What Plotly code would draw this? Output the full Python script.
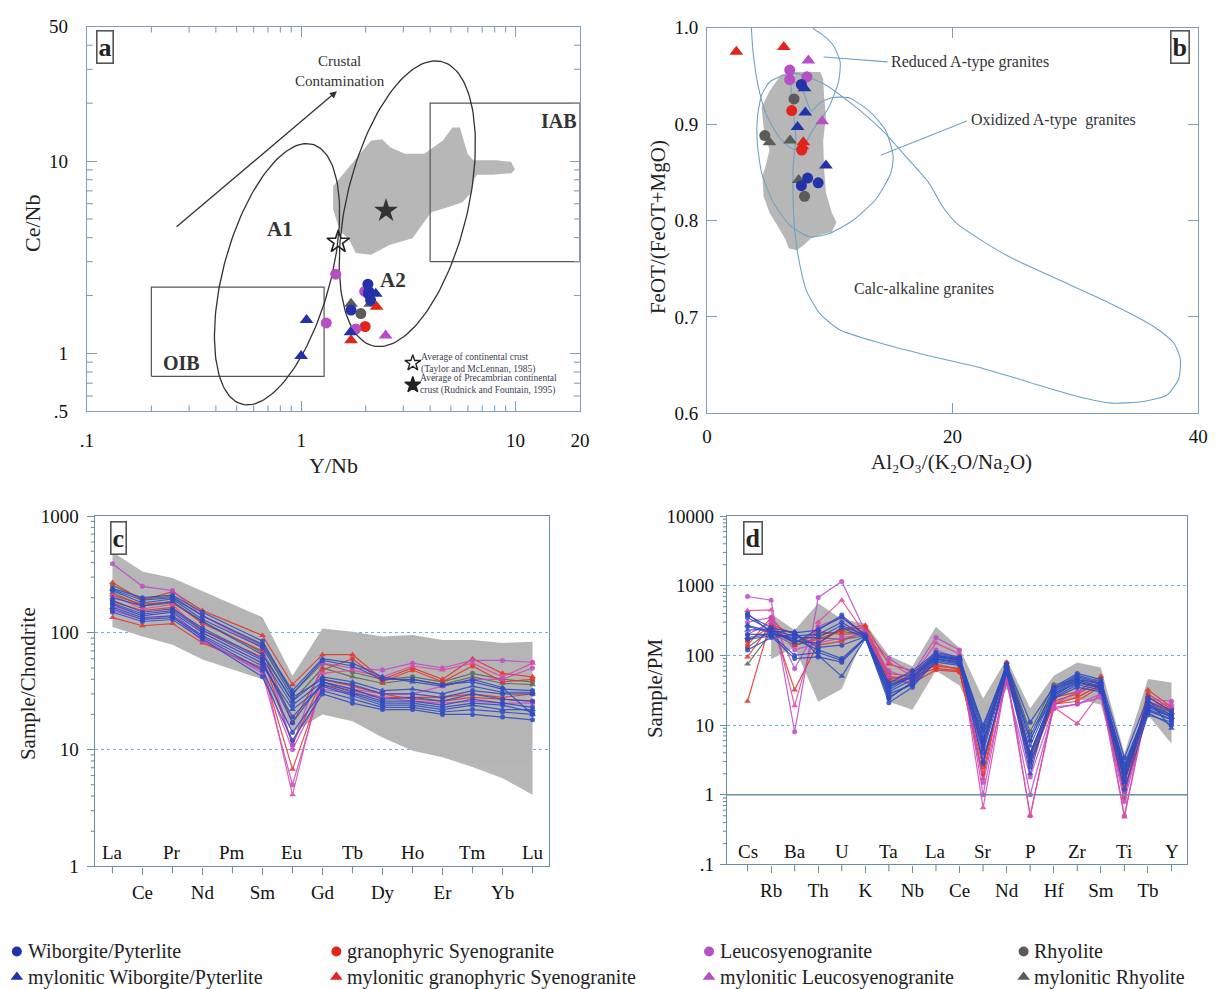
import math
import plotly.graph_objects as go

W, H = 1218, 989
SERIF = "Liberation Serif"

BLUE = "#2233aa"
RED = "#e3241b"
MAG = "#b64fc3"
GRAY = "#5b5b5b"
FRAME_AB = "#7f9fba"
FRAME_CD = "#6a90a4"
FIELD = "#6fa3c3"
SHADE = "#b7b7b7"

# ---------------- (a) Y/Nb vs Ce/Nb ----------------
a_wib_yn = [2.05, 2.06, 1.71, 2.07, 2.11]
a_wib_cn = [2.29, 2.04, 1.68, 2.10, 1.89]
a_mwib_yn = [2.23, 1.06, 1.70, 1.00]
a_mwib_cn = [2.04, 1.49, 1.29, 0.97]
a_gra_yn = [1.99]
a_gra_cn = [1.38]
a_mgra_yn = [2.25, 1.71]
a_mgra_cn = [1.75, 1.17]
a_leu_yn = [1.45, 1.31, 1.80, 1.98]
a_leu_cn = [2.58, 1.44, 1.34, 2.10]
a_mleu_yn = [2.48]
a_mleu_cn = [1.24]
a_rhy_yn = [1.90]
a_rhy_cn = [1.61]
a_mrhy_yn = [1.71, 2.10]
a_mrhy_cn = [1.81, 1.81]

# grey field of comparison data
a_blob_yn = [1.41, 2.12, 2.39, 2.60, 3.05, 3.75, 4.59, 5.08, 5.51, 5.75, 5.98, 6.36, 8.12,
             9.55, 9.95, 9.55, 7.80, 6.62, 6.41, 6.23, 5.63, 4.79, 4.06, 3.75, 3.31, 2.60,
             2.12, 1.80, 1.66, 1.53, 1.47, 1.41]
a_blob_cn = [7.40, 12.8, 13.0, 11.8, 10.9, 10.9, 12.8, 14.96, 14.96, 12.8, 10.9, 10.1, 10.1,
             9.92, 9.01, 8.65, 8.49, 8.49, 8.01, 6.85, 6.09, 5.74, 5.42, 4.82, 3.97, 3.67,
             3.26, 3.33, 3.97, 4.28, 4.82, 5.64]

# OIB and IAB fields (Y/Nb, Ce/Nb limits)
oib_yn = [0.2, 1.28]
oib_cn = [0.76, 2.21]
iab_yn = [4.0, 20.0]
iab_cn = [3.0, 20.0]

# crustal averages
crust_tm = (1.49, 3.8)
crust_rf = (2.49, 5.52)

# ---------------- (b) FeOT/(FeOT+MgO) vs Al2O3/(K2O/Na2O) ----------------
b_wib_x = [7.68, 8.19, 7.68, 9.05]
b_wib_y = [0.941, 0.844, 0.836, 0.839]
b_mwib_x = [7.94, 8.0, 7.37, 9.68]
b_mwib_y = [0.937, 0.912, 0.897, 0.857]
b_gra_x = [6.89, 7.71]
b_gra_y = [0.914, 0.873]
b_mgra_x = [2.38, 6.25, 7.84, 7.76]
b_mgra_y = [0.975, 0.980, 0.881, 0.877]
b_leu_x = [6.73, 6.73, 8.13]
b_leu_y = [0.956, 0.946, 0.949]
b_mleu_x = [8.25, 9.37]
b_mleu_y = [0.966, 0.903]
b_rhy_x = [7.08, 4.70, 7.94]
b_rhy_y = [0.926, 0.888, 0.825]
b_mrhy_x = [5.08, 6.76, 7.46]
b_mrhy_y = [0.881, 0.883, 0.842]

b_blob_x = [6.03, 6.98, 9.21, 9.46, 9.52, 9.68, 9.46, 9.52, 9.68, 10.16, 10.54, 10.16, 9.21,
            8.41, 7.94, 7.30, 6.67, 6.35, 5.71, 5.08, 4.60, 4.51, 4.76, 5.08, 4.60, 4.44,
            5.08, 5.71, 6.03]
b_blob_y = [0.951, 0.954, 0.954, 0.947, 0.931, 0.907, 0.883, 0.856, 0.829, 0.808, 0.798,
            0.788, 0.785, 0.781, 0.775, 0.769, 0.771, 0.781, 0.795, 0.808, 0.825, 0.846,
            0.856, 0.873, 0.897, 0.917, 0.934, 0.946, 0.951]

reduced_x = [3.55, 3.61, 3.75, 4.15, 4.82, 5.89, 6.96, 7.71, 8.57, 9.90, 10.71, 10.84, 10.31,
             9.37, 8.70, 8.40]
reduced_y = [1.01, 0.9987, 0.974, 0.940, 0.910, 0.886, 0.874, 0.874, 0.893, 0.917, 0.944,
             0.964, 0.981, 0.993, 0.9987, 1.01]
oxidized_x = [6.34, 5.12, 4.45, 4.10, 4.10, 4.45, 5.40, 6.75, 8.36, 9.98, 11.86, 13.75, 14.96,
              15.16, 14.56, 13.21, 11.60, 10.25, 9.17, 8.50, 7.82, 7.01, 6.34]
oxidized_y = [0.9506, 0.9439, 0.9303, 0.9066, 0.8795, 0.8490, 0.8186, 0.7949, 0.7830, 0.7865,
              0.8000, 0.8220, 0.8490, 0.8660, 0.8931, 0.9134, 0.9269, 0.9276, 0.9218, 0.9134,
              0.9337, 0.9455, 0.9506]
calc_x = [7.01, 9.44, 11.86, 14.29, 16.45, 18.06, 19.14, 20.22, 22.10, 24.80, 28.84, 32.89,
          36.39, 38.01, 38.55, 38.42, 37.47, 35.58, 32.89, 30.19, 26.15, 22.10, 18.06, 14.02,
          10.79, 9.17, 8.09, 7.55, 7.15, 7.01, 7.01, 7.23, 6.99, 6.83, 7.01]
calc_y = [0.9523, 0.9421, 0.9201, 0.8931, 0.8626, 0.8389, 0.8152, 0.7983, 0.7814, 0.7611,
          0.7374, 0.7137, 0.6900, 0.6731, 0.6561, 0.6358, 0.6190, 0.6122, 0.6105, 0.6173,
          0.6325, 0.6477, 0.6596, 0.6731, 0.6866, 0.7036, 0.7272, 0.7543, 0.7881, 0.8220,
          0.8558, 0.8863, 0.9168, 0.9371, 0.9523]

# ---------------- (c) chondrite-normalised REE ----------------
ree = ["La", "Ce", "Pr", "Nd", "Pm", "Sm", "Eu", "Gd", "Tb", "Dy", "Ho", "Er", "Tm", "Yb", "Lu"]
c_env_hi = [493, 335, 295, 228, None, 136, 43, 109, 102, 93, 96, 87, 87, 82, 84]
c_env_lo = [112, 93, 79, 59, None, 40, 14, 20, 17.5, 12.7, 9.8, 8.6, 7.1, 5.7, 4.1]

c_wib = [
    [240, 200, 210, 150, None, 85, 30, 58, 52, 40, 40, 36, 38, 33, 32],
    [230, 180, 195, 130, None, 75, 28, 40, 36, 30, 30, 28, 32, 30, 30],
    [190, 150, 160, 110, None, 60, 24, 38, 33, 27, 28, 26, 30, 27, 26],
    [175, 140, 150, 100, None, 55, 19, 36, 30, 25, 25, 23, 25, 24, 21],
    [160, 130, 135, 92, None, 48, 14, 32, 27, 23, 23, 21, 22, 21, 20],
    [150, 125, 130, 88, None, 42, 12, 30, 25, 22, 22, 20, 20, 19, 18],
    [180, 145, 155, 105, None, 58, 17, 38, 31, 26, 26, 24, 27, 25, 23],
]
c_mwib = [
    [200, 170, 185, 125, None, 65, 26, 42, 38, 32, 33, 30, 35, 31, 31],
    [165, 135, 140, 95, None, 52, 22, 35, 29, 24, 24, 22, 24, 22, 22],
    [235, 190, 200, 140, None, 80, 32, 60, 55, 42, 38, 35, 40, 34, 20],
]
c_gra = [
    [210, 175, 185, 120, None, 70, 17, 48, 60, 38, 48, 38, 52, 38, 40],
    [185, 155, 165, 105, None, 62, 11, 40, 35, 30, 27, 26, 28, 27, 26],
]
c_mgra = [
    [270, 190, 225, 155, None, 95, 36, 65, 65, 40, 50, 40, 60, 45, 42],
    [135, 115, 120, 82, None, 50, 6.8, 36, 32, 28, 28, 28, 30, 28, 30],
]
c_leu = [
    [390, 250, 230, 140, None, 75, 11, 55, 50, 48, 55, 50, 58, 58, 56],
    [170, 140, 150, 90, None, 45, 5.0, 38, 33, 30, 30, 35, 40, 40, 50],
    [155, 130, 140, 85, None, 47, 10, 33, 30, 28, 26, 25, 26, 25, 25],
]
c_mleu = [
    [210, 160, 175, 100, None, 55, 4.1, 45, 48, 42, 52, 48, 55, 42, 55],
]
c_rhy = [
    [255, 195, 205, 140, None, 78, 30, 55, 46, 40, 42, 38, 45, 40, 38],
]
c_mrhy = [
    [220, 170, 180, 125, None, 68, 26, 50, 42, 37, 40, 36, 42, 37, 36],
]

# ---------------- (d) primitive-mantle-normalised trace elements ----------------
trace = ["Cs", "Rb", "Ba", "Th", "U", "K", "Ta", "Nb", "La", "Ce", "Sr", "Nd", "P", "Hf",
         "Zr", "Sm", "Ti", "Tb", "Y"]
d_env_hi = [None, 396, 230, 560, 330, 287, 100, 70, 258, 128, 24, 88, 17.5, 51, 79, 67, 3.9, 46, 41]
d_env_lo = [None, 88, 130, 21.7, 33, 208, 21.7, 16.6, 60, 37, 7.4, 33, 8.2, 19.5, 24, 19.5, 1.17, 14, 5.4]

d_wib = [
    [380, 250, 210, 230, 380, 190, 40, 60, 110, 95, 9, 75, 11, 35, 55, 45, 3.4, 25, 16],
    [350, 230, 190, 200, 300, 185, 35, 50, 100, 90, 7, 70, 6, 30, 45, 40, 2.5, 20, 14],
    [260, 210, 160, 150, 250, 180, 30, 45, 95, 85, 5.5, 65, 4, 28, 40, 35, 2.0, 18, 13],
    [200, 200, 100, 110, 85, 175, 25, 40, 90, 80, 4, 60, 3, 25, 38, 32, 1.6, 16, 12],
    [170, 190, 90, 95, 80, 180, 21, 35, 85, 75, 3, 55, 2.5, 24, 35, 30, 1.2, 14, 11],
    [120, 180, 200, 130, 140, 185, 28, 38, 80, 72, 6, 62, 3.5, 26, 42, 34, 1.8, 15, 10],
    [400, 210, 170, 120, 90, 180, 24, 42, 88, 78, 2.8, 58, 3.8, 28, 44, 36, 2.4, 17, 12],
]
d_mwib = [
    [270, 220, 220, 100, 50, 175, 35, 55, 105, 92, 8, 70, 2, 32, 50, 40, 2.2, 22, 15],
    [180, 200, 180, 180, 270, 190, 32, 50, 100, 88, 10, 68, 5, 30, 48, 38, 2.8, 19, 13],
    [230, 240, 150, 240, 350, 200, 38, 48, 95, 85, 4.5, 72, 7, 33, 52, 42, 1.5, 24, 9],
]
d_gra = [
    [140, 350, 140, 170, 230, 250, 55, 50, 65, 60, 2.0, 70, 3.5, 22, 28, 42, 0.9, 28, 17],
    [160, 260, 150, 220, 200, 210, 45, 40, 62, 58, 2.5, 60, 3, 20, 22, 36, 1.1, 22, 16],
]
d_mgra = [
    [22, 320, 32, 150, 240, 270, 75, 60, 70, 65, 4.5, 80, 4, 25, 30, 50, 1.0, 32, 18],
    [95, 280, 200, 140, 160, 230, 50, 45, 75, 62, 1.7, 65, 2.8, 20, 25, 38, 1.4, 26, 15],
]
d_leu = [
    [700, 620, 8, 680, 1150, 220, 90, 55, 180, 120, 1.0, 55, 0.5, 20, 30, 40, 0.5, 24, 22],
    [300, 350, 65, 260, 350, 190, 60, 45, 120, 90, 1.5, 45, 1.0, 17, 20, 28, 0.8, 18, 18],
    [200, 300, 120, 150, 180, 200, 50, 38, 100, 80, 3.5, 40, 1.8, 18, 20, 25, 1.0, 16, 14],
]
d_mleu = [
    [440, 450, 19, 300, 620, 200, 80, 50, 150, 105, 0.65, 50, 0.5, 18, 10.5, 30, 0.48, 20, 20],
]
d_rhy = [
    [130, 230, 150, 200, 220, 200, 45, 55, 100, 85, 6, 78, 8, 38, 45, 35, 2.0, 22, 14],
]
d_mrhy = [
    [75, 210, 140, 180, 170, 190, 40, 50, 90, 80, 5, 72, 6, 35, 42, 33, 1.8, 20, 13],
]

# ---------------- layout geometry (pixels) ----------------
def px_dom_x(x0, x1):
    return [x0 / W, x1 / W]


def px_dom_y(top, bottom):
    return [1 - bottom / H, 1 - top / H]


A_X, A_Y = (81, 581), (17, 410)
B_X, B_Y = (710, 1208), (18, 412)
C_X, C_Y = (89, 550), (517, 875)
D_X, D_Y = (730, 1197), (517, 873)

A_XR = [math.log10(0.1), math.log10(20)]
A_YR = [math.log10(0.5), math.log10(50)]
KX = (A_X[1] - A_X[0]) / (A_XR[1] - A_XR[0])   # px per decade
KY = (A_Y[1] - A_Y[0]) / (A_YR[1] - A_YR[0])


def ellipse(cx, cy, a_px, b_px, phi_deg, n=160):
    phi = math.radians(phi_deg)
    xs, ys = [], []
    for i in range(n + 1):
        t = 2 * math.pi * i / n
        du = a_px * math.cos(t) * math.cos(phi) - b_px * math.sin(t) * math.sin(phi)
        dv = a_px * math.cos(t) * math.sin(phi) + b_px * math.sin(t) * math.cos(phi)
        xs.append(cx * 10 ** (du / KX))
        ys.append(cy * 10 ** (dv / KY))
    return xs, ys


fig = go.Figure()

# ---------- panel a ----------
fig.add_trace(go.Scatter(x=a_blob_yn, y=a_blob_cn, fill="toself", fillcolor=SHADE,
                         mode="lines", line=dict(width=0), xaxis="x", yaxis="y",
                         hoverinfo="skip", showlegend=False))
for (x0, x1), (y0, y1) in [(oib_yn, oib_cn), (iab_yn, iab_cn)]:
    fig.add_trace(go.Scatter(x=[x0, x1, x1, x0, x0], y=[y0, y0, y1, y1, y0], mode="lines",
                             line=dict(color="#555", width=1.2), xaxis="x", yaxis="y",
                             showlegend=False, hoverinfo="skip"))
ex, ey = ellipse(0.772, 2.58, 137.5, 54.3, 74.9)
fig.add_trace(go.Scatter(x=ex, y=ey, mode="lines", line=dict(color="#333", width=1.3),
                         xaxis="x", yaxis="y", showlegend=False, hoverinfo="skip"))
ex, ey = ellipse(3.13, 6.0, 149.4, 61.4, 76.6)
fig.add_trace(go.Scatter(x=ex, y=ey, mode="lines", line=dict(color="#333", width=1.3),
                         xaxis="x", yaxis="y", showlegend=False, hoverinfo="skip"))

groups_a = [
    (a_rhy_yn, a_rhy_cn, GRAY, "circle"), (a_mrhy_yn, a_mrhy_cn, GRAY, "triangle-up"),
    (a_gra_yn, a_gra_cn, RED, "circle"), (a_mgra_yn, a_mgra_cn, RED, "triangle-up"),
    (a_leu_yn, a_leu_cn, MAG, "circle"), (a_mleu_yn, a_mleu_cn, MAG, "triangle-up"),
    (a_wib_yn, a_wib_cn, BLUE, "circle"), (a_mwib_yn, a_mwib_cn, BLUE, "triangle-up"),
]
for xs, ys, col, sym in groups_a:
    fig.add_trace(go.Scatter(x=xs, y=ys, mode="markers", xaxis="x", yaxis="y",
                             marker=dict(color=col, symbol=sym, size=11 if sym == "circle" else 12,
                                         line=dict(width=0)), showlegend=False))

fig.add_trace(go.Scatter(x=[crust_tm[0]], y=[crust_tm[1]], mode="markers", xaxis="x", yaxis="y",
                         marker=dict(symbol="star-open", size=17, color="#222",
                                     line=dict(width=1.6, color="#222")), showlegend=False))
fig.add_trace(go.Scatter(x=[crust_rf[0]], y=[crust_rf[1]], mode="markers", xaxis="x", yaxis="y",
                         marker=dict(symbol="star", size=18, color="#333"), showlegend=False))
# key for the two crustal averages
fig.add_trace(go.Scatter(x=[3.32, 3.32], y=[0.891, 0.686], mode="markers", xaxis="x", yaxis="y",
                         marker=dict(symbol=["star-open", "star"], size=12, color="#222",
                                     line=dict(width=1.4, color="#222")), showlegend=False))

# ---------- panel b ----------
fig.add_trace(go.Scatter(x=b_blob_x, y=b_blob_y, fill="toself", fillcolor=SHADE, mode="lines",
                         line=dict(width=0), xaxis="x2", yaxis="y2", hoverinfo="skip",
                         showlegend=False))
for xs, ys in [(reduced_x, reduced_y), (oxidized_x, oxidized_y), (calc_x, calc_y),
               ([9.50, 14.7], [0.9695, 0.9645]), ([14.15, 21.16], [0.8677, 0.9032])]:
    fig.add_trace(go.Scatter(x=xs, y=ys, mode="lines", line=dict(color=FIELD, width=1.1,
                                                                  shape="spline", smoothing=0.6),
                             xaxis="x2", yaxis="y2", hoverinfo="skip", showlegend=False))
groups_b = [
    (b_rhy_x, b_rhy_y, GRAY, "circle"), (b_mrhy_x, b_mrhy_y, GRAY, "triangle-up"),
    (b_leu_x, b_leu_y, MAG, "circle"), (b_mleu_x, b_mleu_y, MAG, "triangle-up"),
    (b_wib_x, b_wib_y, BLUE, "circle"), (b_mwib_x, b_mwib_y, BLUE, "triangle-up"),
    (b_gra_x, b_gra_y, RED, "circle"), (b_mgra_x, b_mgra_y, RED, "triangle-up"),
]
for xs, ys, col, sym in groups_b:
    fig.add_trace(go.Scatter(x=xs, y=ys, mode="markers", xaxis="x2", yaxis="y2",
                             marker=dict(color=col, symbol=sym, size=11 if sym == "circle" else 12,
                                         line=dict(width=0)), showlegend=False))


# ---------- panels c and d: spider diagrams ----------
def envelope(hi, lo, xa, ya):
    idx = [i for i in range(len(hi)) if hi[i] is not None]
    xs = idx + idx[::-1] + [idx[0]]
    ys = [hi[i] for i in idx] + [lo[i] for i in idx[::-1]] + [hi[idx[0]]]
    fig.add_trace(go.Scatter(x=xs, y=ys, fill="toself", fillcolor=SHADE, mode="lines",
                             line=dict(width=0), xaxis=xa, yaxis=ya, hoverinfo="skip",
                             showlegend=False))


def spider(rows, col, sym, xa, ya):
    for r in rows:
        fig.add_trace(go.Scatter(x=list(range(len(r))), y=r, mode="lines+markers",
                                 connectgaps=True, xaxis=xa, yaxis=ya, opacity=0.88,
                                 line=dict(color=col, width=1.2),
                                 marker=dict(color=col, symbol=sym, size=5 if sym == "circle" else 6),
                                 showlegend=False))


LB, LR, LM, LP, LG = "#2f4cc2", "#e2382e", "#c14ccb", "#e04a9c", "#5d6a58"
envelope(c_env_hi, c_env_lo, "x3", "y3")
envelope(d_env_hi, d_env_lo, "x4", "y4")
for xa, ya, sets in [
    ("x3", "y3", [(c_rhy, LG, "circle"), (c_mrhy, LG, "triangle-up"), (c_gra, LR, "circle"),
                  (c_mgra, LR, "triangle-up"), (c_leu, LM, "circle"), (c_mleu, LP, "triangle-up"),
                  (c_wib, LB, "circle"), (c_mwib, LB, "triangle-up")]),
    ("x4", "y4", [(d_rhy, LG, "circle"), (d_mrhy, LG, "triangle-up"), (d_gra, LR, "circle"),
                  (d_mgra, LR, "triangle-up"), (d_leu, LM, "circle"), (d_mleu, LP, "triangle-up"),
                  (d_wib, LB, "circle"), (d_mwib, LB, "triangle-up")]),
]:
    for rows, col, sym in sets:
        spider(rows, col, sym, xa, ya)

# solid reference line at 1 in panel d
fig.add_trace(go.Scatter(x=[-0.88, 18.67], y=[1, 1], mode="lines", xaxis="x4", yaxis="y4",
                         line=dict(color=FRAME_CD, width=1.3), hoverinfo="skip", showlegend=False))

# ---------- bottom key (markers) ----------
KEY_ROWS = (962, 988)
key_cols = [
    (10, [("Wiborgite/Pyterlite", BLUE), ("mylonitic Wiborgite/Pyterlite", BLUE)]),
    (334, [("granophyric Syenogranite", RED), ("mylonitic granophyric Syenogranite", RED)]),
    (712, [("Leucosyenogranite", MAG), ("mylonitic Leucosyenogranite", MAG)]),
    (1031, [("Rhyolite", GRAY), ("mylonitic Rhyolite", GRAY)]),
]
for cx, items in key_cols:
    for row, (label, col) in enumerate(items):
        fig.add_trace(go.Scatter(x=[cx], y=[KEY_ROWS[row]], mode="markers", xaxis="x5",
                                 yaxis="y5", cliponaxis=False,
                                 marker=dict(color=col, size=10 if row == 0 else 11,
                                             symbol="circle" if row == 0 else "triangle-up"),
                                 showlegend=False, hoverinfo="skip"))

# ---------- axes ----------
TICKFONT = dict(family=SERIF, size=19, color="#111")


def base(color):
    return dict(showline=True, linecolor=color, linewidth=1.2, mirror=True, showgrid=False,
                zeroline=False, tickfont=TICKFONT, tickcolor=color, tickwidth=1.2,
                fixedrange=True)


xa = base(FRAME_AB)
xa.update(type="log", domain=px_dom_x(*A_X), range=A_XR, anchor="y",
          tickvals=[0.1, 1, 10, 20], ticktext=[".1", "1", "10", "20"], ticks="inside",
          ticklen=10, mirror="allticks", ticklabelstandoff=12)
ya = base(FRAME_AB)
ya.update(type="log", domain=px_dom_y(*A_Y), range=A_YR, anchor="x",
          tickvals=[0.5, 1, 10, 50], ticktext=[".5", "1", "10", "50"], ticks="inside",
          ticklen=10, mirror="allticks", ticklabelstandoff=14)

xb = base(FRAME_AB)
xb.update(domain=px_dom_x(*B_X), range=[0, 40], anchor="y2", tickvals=[0, 20, 40],
          ticks="inside", ticklen=10, mirror="allticks", ticklabelstandoff=6)
yb = base(FRAME_AB)
yb.update(domain=px_dom_y(*B_Y), range=[0.6, 1.0], anchor="x2",
          tickvals=[0.6, 0.7, 0.8, 0.9, 1.0], ticktext=["0.6", "0.7", "0.8", "0.9", "1.0"],
          ticks="inside", ticklen=10, mirror="allticks", ticklabelstandoff=4)

ree_odd = [i for i in range(len(ree)) if i % 2 == 1]
ree_even = [i for i in range(len(ree)) if i % 2 == 0]
xc = base(FRAME_CD)
xc.update(domain=px_dom_x(*C_X), range=[-0.59, 14.56], anchor="y3",
          tickvals=ree_odd, ticktext=[ree[i] for i in ree_odd],
          ticks="outside", ticklen=7, ticklabelstandoff=2)
yc = base(FRAME_CD)
yc.update(type="log", domain=px_dom_y(*C_Y), range=[0, 3], anchor="x3",
          tickvals=[1, 10, 100, 1000], ticktext=["1", "10", "100", "1000"], ticks="outside",
          ticklen=7, showgrid=True, gridcolor="#6fb2d6", griddash="dot", gridwidth=1.2,
          ticklabelstandoff=4)

tr_odd = [i for i in range(len(trace)) if i % 2 == 1]
tr_even = [i for i in range(len(trace)) if i % 2 == 0]
xd = base(FRAME_CD)
xd.update(domain=px_dom_x(*D_X), range=[-0.88, 18.67], anchor="y4",
          tickvals=tr_odd, ticktext=[trace[i] for i in tr_odd],
          ticks="outside", ticklen=7, ticklabelstandoff=2)
yd = base(FRAME_CD)
yd.update(type="log", domain=px_dom_y(*D_Y), range=[-1, 4], anchor="x4",
          tickvals=[0.1, 1, 10, 100, 1000, 10000],
          ticktext=[".1", "1", "10", "100", "1000", "10000"], ticks="outside",
          ticklen=6, showgrid=True, gridcolor="#6fb2d6", griddash="dot", gridwidth=1.2,
          ticklabelstandoff=2)

xk = dict(domain=[0, 1], range=[0, W], visible=False, fixedrange=True, anchor="y5")
yk = dict(domain=[0, 0.1], range=[H, H - 0.1 * H], visible=False, fixedrange=True, anchor="x5")

# ---------- minor tick marks (drawn as paper-space segments) ----------
shapes = []


def frac(v, rng, log):
    p = math.log10(v) if log else v
    return (p - rng[0]) / (rng[1] - rng[0])


def seg(x0, y0, x1, y1, color):
    shapes.append(dict(type="line", xref="paper", yref="paper", x0=x0, y0=y0, x1=x1, y1=y1,
                       line=dict(color=color, width=1.1), layer="above"))


def minor_x(vals, dom_x, dom_y, rng, log, length, color, sides):
    for v in vals:
        px = dom_x[0] + frac(v, rng, log) * (dom_x[1] - dom_x[0])
        if "bottom_in" in sides:
            seg(px, dom_y[0], px, dom_y[0] + length / H, color)
        if "top_in" in sides:
            seg(px, dom_y[1], px, dom_y[1] - length / H, color)
        if "bottom_out" in sides:
            seg(px, dom_y[0], px, dom_y[0] - length / H, color)


def minor_y(vals, dom_x, dom_y, rng, log, length, color, sides):
    for v in vals:
        py = dom_y[0] + frac(v, rng, log) * (dom_y[1] - dom_y[0])
        if "left_in" in sides:
            seg(dom_x[0], py, dom_x[0] + length / W, py, color)
        if "right_in" in sides:
            seg(dom_x[1], py, dom_x[1] - length / W, py, color)
        if "left_out" in sides:
            seg(dom_x[0], py, dom_x[0] - length / W, py, color)


minor_ax = [0.2, 0.3, 0.4, 0.5, 0.6, 0.7, 0.8, 0.9, 2, 3, 4, 5, 6, 7, 8, 9]
minor_ay = [0.6, 0.7, 0.8, 0.9, 2, 3, 4, 5, 6, 7, 8, 9, 20, 30, 40]
minor_c = [k * 10 ** e for e in range(0, 3) for k in range(2, 10)]
minor_d = [k * 10 ** e for e in range(-1, 4) for k in range(2, 10)]

minor_x(minor_ax, xa["domain"], ya["domain"], A_XR, True, 6, FRAME_AB, ("bottom_in", "top_in"))
minor_y(minor_ay, xa["domain"], ya["domain"], A_YR, True, 6, FRAME_AB, ("left_in", "right_in"))
minor_y(minor_c, xc["domain"], yc["domain"], [0, 3], True, 4, FRAME_CD, ("left_out",))
minor_y(minor_d, xd["domain"], yd["domain"], [-1, 4], True, 4, FRAME_CD, ("left_out",))
minor_x(ree_even, xc["domain"], yc["domain"], xc["range"], False, 7, FRAME_CD, ("bottom_out",))
minor_x(tr_even, xd["domain"], yd["domain"], xd["range"], False, 7, FRAME_CD, ("bottom_out",))

# ---------- annotations ----------
ann = []


def text(x, y, s, size, xref="paper", yref="paper", bold=False, color="#333", angle=0,
         xanchor="center", yanchor="middle", align="center"):
    ann.append(dict(x=x, y=y, xref=xref, yref=yref, text=("<b>%s</b>" % s) if bold else s,
                    showarrow=False, textangle=angle, xanchor=xanchor, yanchor=yanchor,
                    align=align, font=dict(family=SERIF, size=size, color=color)))


def letter(px, py, s):
    ann.append(dict(x=px / W, y=1 - py / H, xref="paper", yref="paper", text="<b>%s</b>" % s,
                    showarrow=False, xanchor="center", yanchor="middle",
                    font=dict(family=SERIF, size=26, color="#222"),
                    bordercolor="#555", borderwidth=1.6, borderpad=1, bgcolor="white"))


letter(99, 38, "a")
letter(1190, 38, "b")
letter(113, 539, "c")
letter(757, 539, "d")

# axis titles
text(331 / W, 1 - 465 / H, "Y/Nb", 22, color="#222")
text(26 / W, 1 - 218 / H, "Ce/Nb", 22, angle=-90, color="#222")
text(958 / W, 1 - 462 / H, "Al\u2082O\u2083/(K\u2082O/Na\u2082O)", 21, color="#222")
text(660 / W, 1 - 222 / H, "FeOT/(FeOT+MgO)", 21, angle=-90, color="#222")
text(22 / W, 1 - 688 / H, "Sample/Chondrite", 21, angle=-90, color="#222")
text(657 / W, 1 - 693 / H, "Sample/PM", 21, angle=-90, color="#222")

# panel a labels (log axes take log10 positions)
L = math.log10
text(L(1.52), L(29.5), "Crustal<br>Contamination", 15, "x", "y")
text(L(0.797), L(4.42), "A1", 21, "x", "y", bold=True)
text(L(2.67), L(2.40), "A2", 21, "x", "y", bold=True)
text(L(15.9), L(16.2), "IAB", 20, "x", "y", bold=True)
text(L(0.276), L(0.888), "OIB", 20, "x", "y", bold=True)
text(L(3.55), L(0.891), "Average of continental crust<br>(Taylor and McLennan, 1985)", 9.5,
     "x", "y", xanchor="left", align="left", color="#3a4050")
text(L(3.50), L(0.686), "Average of Precambrian continental<br>crust (Rudnick and Fountain, 1995)",
     9.5, "x", "y", xanchor="left", align="left", color="#3a4050")
ann.append(dict(x=L(1.47), y=L(23.1), ax=L(0.254), ay=L(4.42), xref="x", yref="y",
                axref="x", ayref="y", showarrow=True, arrowhead=2, arrowsize=1.1,
                arrowwidth=1.3, arrowcolor="#333", text=" "))

# panel b labels
text(14.8, 0.9645, "Reduced A-type granites", 16, "x2", "y2", xanchor="left", color="#333")
text(21.3, 0.9045, "Oxidized A-type  granites", 16, "x2", "y2", xanchor="left", color="#333")
text(17.7, 0.729, "Calc-alkaline granites", 16, "x2", "y2", color="#333")

# element names above the x axis in c and d
for i in ree_even:
    text(i, 0.04, ree[i], 19, "x3", "y3 domain", color="#111")
for i in tr_even:
    text(i, 0.038, trace[i], 19, "x4", "y4 domain", color="#111")

# key labels
for cx, items in key_cols:
    for row, (label, col) in enumerate(items):
        text(cx + 9, KEY_ROWS[row], label, 20, "x5", "y5", xanchor="left", color="#222")

fig.update_layout(
    width=W, height=H, margin=dict(l=0, r=0, t=0, b=0), paper_bgcolor="white",
    plot_bgcolor="white", showlegend=False,
    xaxis=xa, yaxis=ya, xaxis2=xb, yaxis2=yb, xaxis3=xc, yaxis3=yc, xaxis4=xd, yaxis4=yd,
    xaxis5=xk, yaxis5=yk, annotations=ann, shapes=shapes,
)

fig.write_html("out.html")
